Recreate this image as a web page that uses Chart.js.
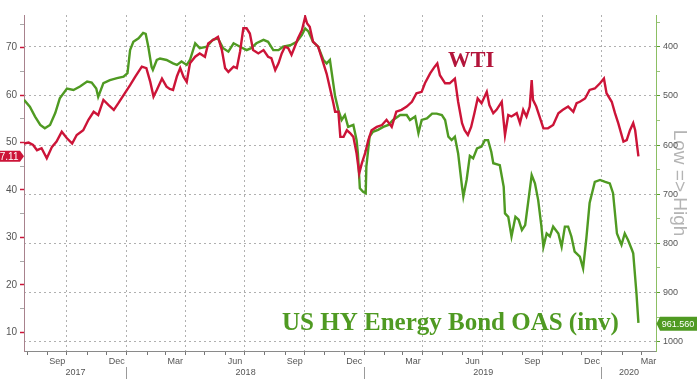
<!DOCTYPE html>
<html><head><meta charset="utf-8">
<script src="https://cdn.jsdelivr.net/npm/chart.js@4"></script>
<style>html,body{margin:0;padding:0;background:#fff;}#wrap{width:700px;height:379px;position:relative;}</style>
</head><body><div id="wrap"><canvas id="c" width="700" height="379"></canvas></div>
<script>
// ---------- data ----------
const wtiDates = ['2017-07-27','2017-08-03','2017-08-10','2017-08-16','2017-08-23','2017-08-31','2017-09-08','2017-09-15','2017-09-23','2017-10-01','2017-10-09','2017-10-16','2017-10-26','2017-11-03','2017-11-11','2017-11-18','2017-11-26','2017-12-04','2017-12-12','2017-12-19','2017-12-27','2018-01-06','2018-01-14','2018-01-24','2018-01-31','2018-02-06','2018-02-11','2018-02-16','2018-02-24','2018-03-03','2018-03-08','2018-03-13','2018-03-19','2018-03-24','2018-03-29','2018-04-03','2018-04-08','2018-04-16','2018-04-23','2018-05-01','2018-05-06','2018-05-13','2018-05-21','2018-05-27','2018-06-01','2018-06-06','2018-06-14','2018-06-19','2018-06-24','2018-06-29','2018-07-04','2018-07-09','2018-07-14','2018-07-22','2018-07-30','2018-08-06','2018-08-11','2018-08-17','2018-08-22','2018-08-27','2018-09-01','2018-09-06','2018-09-11','2018-09-16','2018-09-21','2018-09-27','2018-10-02','2018-10-05','2018-10-09','2018-10-14','2018-10-22','2018-10-30','2018-11-04','2018-11-09','2018-11-14','2018-11-17','2018-11-22','2018-11-25','2018-11-30','2018-12-05','2018-12-10','2018-12-15','2018-12-20','2018-12-24','2018-12-28','2019-01-02','2019-01-07','2019-01-12','2019-01-20','2019-01-28','2019-02-04','2019-02-12','2019-02-19','2019-02-27','2019-03-07','2019-03-15','2019-03-22','2019-03-30','2019-04-04','2019-04-12','2019-04-19','2019-04-23','2019-04-27','2019-05-05','2019-05-12','2019-05-20','2019-05-25','2019-05-31','2019-06-04','2019-06-09','2019-06-14','2019-06-19','2019-06-24','2019-06-30','2019-07-08','2019-07-12','2019-07-18','2019-07-23','2019-07-31','2019-08-05','2019-08-10','2019-08-15','2019-08-23','2019-08-28','2019-09-02','2019-09-07','2019-09-12','2019-09-15','2019-09-17','2019-09-22','2019-09-28','2019-10-03','2019-10-10','2019-10-18','2019-10-26','2019-11-02','2019-11-10','2019-11-18','2019-11-23','2019-11-28','2019-12-06','2019-12-13','2019-12-21','2019-12-29','2020-01-04','2020-01-08','2020-01-16','2020-01-21','2020-01-26','2020-02-03','2020-02-08','2020-02-13','2020-02-18','2020-02-21','2020-02-26'];
const wtiValues = [49.8,50.0,49.5,48.4,48.8,46.7,49.1,50.2,52.3,50.9,49.8,51.6,52.6,54.8,56.5,55.8,59.0,57.9,56.9,58.3,60.0,62.1,63.9,66.0,65.7,62.8,59.7,61.1,63.5,61.8,61.3,61.1,64.0,65.7,63.9,62.8,66.7,68.1,68.8,68.1,70.9,71.6,72.3,69.5,65.7,64.9,66.0,65.7,69.2,74.1,74.1,73.0,69.5,68.8,69.5,68.1,67.8,65.3,66.7,68.8,70.2,69.9,68.5,70.2,72.0,73.7,76.5,75.1,74.4,71.3,70.2,66.7,64.5,61.5,58.5,56.5,56.5,51.2,51.2,52.6,52.0,51.2,47.7,43.5,45.6,47.7,50.5,52.6,53.3,53.7,54.8,53.3,56.5,56.9,57.6,58.6,60.4,60.7,62.5,64.6,66.0,66.7,64.2,62.5,62.5,63.5,58.6,54.1,52.6,51.6,53.3,56.2,59.3,58.3,60.7,57.9,56.2,56.9,58.6,51.6,55.8,55.5,56.2,54.1,56.9,55.5,57.6,63.2,59.0,57.6,55.1,53.0,53.0,53.7,56.2,56.9,57.6,56.5,58.3,58.6,59.3,61.1,61.4,62.5,63.5,60.4,58.6,56.2,54.1,50.2,50.5,52.6,54.1,52.6,47.11];

const oasDates = ['2017-07-27','2017-08-05','2017-08-13','2017-08-21','2017-08-28','2017-09-05','2017-09-13','2017-09-20','2017-10-01','2017-10-11','2017-10-21','2017-11-01','2017-11-08','2017-11-15','2017-11-18','2017-11-26','2017-12-06','2017-12-17','2017-12-27','2018-01-02','2018-01-06','2018-01-11','2018-01-19','2018-01-26','2018-01-30','2018-02-03','2018-02-08','2018-02-10','2018-02-16','2018-02-21','2018-03-03','2018-03-13','2018-03-19','2018-03-26','2018-04-03','2018-04-08','2018-04-16','2018-04-23','2018-05-04','2018-05-13','2018-05-21','2018-05-29','2018-06-06','2018-06-14','2018-06-24','2018-07-04','2018-07-11','2018-07-19','2018-07-30','2018-08-06','2018-08-14','2018-08-22','2018-08-29','2018-09-09','2018-09-19','2018-09-27','2018-10-02','2018-10-07','2018-10-14','2018-10-22','2018-10-30','2018-11-04','2018-11-09','2018-11-17','2018-11-22','2018-11-27','2018-12-02','2018-12-07','2018-12-15','2018-12-20','2018-12-22','2018-12-25','2018-12-30','2019-01-03','2019-01-04','2019-01-09','2019-01-14','2019-01-22','2019-01-30','2019-02-07','2019-02-14','2019-02-25','2019-03-07','2019-03-12','2019-03-20','2019-03-25','2019-03-30','2019-04-07','2019-04-15','2019-04-22','2019-04-30','2019-05-05','2019-05-10','2019-05-15','2019-05-20','2019-05-25','2019-05-31','2019-06-02','2019-06-07','2019-06-12','2019-06-17','2019-06-23','2019-06-30','2019-07-05','2019-07-10','2019-07-15','2019-07-18','2019-07-28','2019-08-03','2019-08-05','2019-08-10','2019-08-15','2019-08-21','2019-08-26','2019-08-31','2019-09-05','2019-09-10','2019-09-15','2019-09-20','2019-09-25','2019-09-30','2019-10-03','2019-10-08','2019-10-13','2019-10-18','2019-10-26','2019-10-31','2019-11-05','2019-11-10','2019-11-15','2019-11-20','2019-11-28','2019-12-03','2019-12-08','2019-12-13','2019-12-21','2019-12-29','2020-01-06','2020-01-13','2020-01-18','2020-01-24','2020-01-31','2020-02-05','2020-02-10','2020-02-16','2020-02-18','2020-02-23','2020-02-26'];
const oasValues = [508,522,542,559,566,559,535,505,485,488,481,471,473,485,502,474,468,464,461,454,407,390,383,372,374,400,441,447,427,424,427,434,437,430,437,427,393,403,400,386,383,403,410,393,400,407,403,393,386,390,407,407,400,397,390,376,363,369,390,400,427,434,427,501,529,549,539,563,559,590,617,688,695,698,644,583,573,569,563,559,549,539,539,549,542,576,549,546,536,536,539,549,583,590,583,617,685,705,671,622,627,607,603,590,590,614,637,641,685,739,746,786,746,752,773,763,712,661,678,712,766,807,780,786,766,780,807,766,766,786,817,827,851,790,718,675,671,675,678,698,780,803,780,793,813,820,902,961.56];

// ---------- tick / label text ----------
const leftTickValues = [10,20,30,40,50,60,70];
const rightTickValues = [400,500,600,700,800,900,1000];
const monthLabelMonths = ['2017-09','2017-12','2018-03','2018-06','2018-09','2018-12','2019-03','2019-06','2019-09','2019-12','2020-03'];
const monthLabels = ['Sep','Dec','Mar','Jun','Sep','Dec','Mar','Jun','Sep','Dec','Mar'];
const yearLabels = ['2017','2018','2019','2020'];
const wtiName = 'WTI';
const oasName = 'US HY Energy Bond OAS (inv)';
const rightTitle = 'Low => High';
const axisStart = '2017-07-27', axisEnd = '2020-03-24';

// ---------- helpers ----------
const day = s => { const p = s.split('-').map(Number); return Date.UTC(p[0], p[1]-1, p[2]||1)/864e5; };
const xMin = day(axisStart), xMax = day(axisEnd);
const mStart = (y, m) => Date.UTC(y, m, 1)/864e5;
const visCenter = (a, b) => (Math.max(a, xMin) + Math.min(b, xMax)) / 2;

const monthTicks = []; const quarterSet = new Set();
for (let y = 2017; y <= 2020; y++) for (let m = 0; m < 12; m++) {
  const v = mStart(y, m);
  if (v > xMin && v < xMax) { monthTicks.push(v); if (m % 3 === 0) quarterSet.add(v); }
}
const monthLabelPos = monthLabelMonths.map(s => { const p = s.split('-').map(Number); return visCenter(mStart(p[0], p[1]-1), mStart(p[0], p[1])); });
const yearItems = [];
yearLabels.forEach(l => {
  const y = Number(l);
  const j = mStart(y, 0);
  if (j > xMin && j < xMax) yearItems.push({v: j, l: '', sep: true});
  yearItems.push({v: visCenter(mStart(y, 0), mStart(y + 1, 0)), l: l, sep: false});
});
yearItems.sort((a, b) => a.v - b.v);

const leftMinor = []; for (let v = 10; v <= 75; v += 5) leftMinor.push(v);
const rightMinor = []; for (let v = 350; v <= 1000; v += 50) rightMinor.push(v);

const RED = '#cc1438', GREEN = '#4f9a22';
const tickFont = {family: '"Liberation Sans", Arial, sans-serif', size: 9};

const wtiData = wtiDates.map((d, i) => ({x: day(d), y: wtiValues[i]}));
const oasData = oasDates.map((d, i) => ({x: day(d), y: oasValues[i]}));

const annot = {
  id: 'annot',
  afterDraw(chart) {
    const ctx = chart.ctx, ys = chart.scales.y, yr = chart.scales.y1, ca = chart.chartArea;
    ctx.save();
    // series names
    ctx.fillStyle = '#b3153b';
    ctx.font = 'bold 22.5px "Liberation Serif", "Times New Roman", serif';
    ctx.textBaseline = 'alphabetic'; ctx.textAlign = 'left';
    ctx.fillText(wtiName, 448, 67);
    ctx.fillStyle = GREEN;
    ctx.font = 'bold 25px "Liberation Serif", "Times New Roman", serif';
    ctx.fillText(oasName, 282, 330);
    // last value tags
    const lw = wtiValues[wtiValues.length - 1];
    const yl = ys.getPixelForValue(lw);
    ctx.fillStyle = RED;
    ctx.beginPath();
    ctx.moveTo(-10, yl - 5.5); ctx.lineTo(20, yl - 5.5); ctx.lineTo(ca.left, yl); ctx.lineTo(20, yl + 5.5); ctx.lineTo(-10, yl + 5.5); ctx.closePath(); ctx.fill();
    ctx.fillStyle = '#fff'; ctx.font = '10px "Liberation Sans", Arial, sans-serif';
    ctx.textAlign = 'right'; ctx.textBaseline = 'middle';
    ctx.fillText(lw.toFixed(2), 18.5, yl + 0.5);
    const lo = oasValues[oasValues.length - 1];
    const yo = yr.getPixelForValue(lo) + 1;
    ctx.fillStyle = GREEN;
    ctx.beginPath();
    ctx.moveTo(ca.right + 0.5, yo); ctx.lineTo(ca.right + 4, yo - 7); ctx.lineTo(697, yo - 7); ctx.lineTo(697, yo + 7); ctx.lineTo(ca.right + 4, yo + 7); ctx.closePath(); ctx.fill();
    ctx.fillStyle = '#fff'; ctx.font = '9px "Liberation Sans", Arial, sans-serif';
    ctx.textAlign = 'center';
    ctx.fillText(lo.toFixed(3), 678, yo + 0.5);
    ctx.restore();
  }
};

new Chart(document.getElementById('c'), {
  type: 'line',
  data: { datasets: [
    { label: wtiName, data: wtiData, borderColor: RED, borderWidth: 2.4, pointRadius: 0, tension: 0, xAxisID: 'x', yAxisID: 'y' },
    { label: oasName, data: oasData, borderColor: GREEN, borderWidth: 2.4, pointRadius: 0, tension: 0, xAxisID: 'x', yAxisID: 'y1' }
  ]},
  options: {
    responsive: false, animation: false, devicePixelRatio: 1,
    layout: { padding: { top: 15, left: 0, right: 0, bottom: 0 } },
    plugins: { legend: { display: false }, tooltip: { enabled: false } },
    scales: {
      x: {
        type: 'linear', position: 'bottom', min: xMin, max: xMax, weight: 0,
        afterFit: s => { s.height = 4; },
        afterBuildTicks: s => { s.ticks = monthTicks.map(v => ({value: v})); },
        ticks: { display: false },
        grid: { display: true, drawOnChartArea: true, drawTicks: true, tickLength: 4,
          color: c => (c.tick && quarterSet.has(c.tick.value)) ? '#b0b0b0' : 'rgba(0,0,0,0)',
          tickColor: '#777', lineWidth: 1 },
        border: { display: true, color: '#8a8a8a', width: 1, dash: [2, 3] }
      },
      xm: {
        type: 'linear', position: 'bottom', min: xMin, max: xMax, weight: 1,
        afterFit: s => { s.height = 12; },
        afterBuildTicks: s => { s.ticks = monthLabelPos.map(v => ({value: v})); },
        ticks: { autoSkip: false, maxRotation: 0, minRotation: 0, padding: 1.5, font: tickFont, color: '#555',
          callback: (v, i) => monthLabels[i] },
        grid: { display: false, drawTicks: false, tickLength: 0 }, border: { display: false }
      },
      xy: {
        type: 'linear', position: 'bottom', min: xMin, max: xMax, weight: 2,
        afterFit: s => { s.height = 12; },
        afterBuildTicks: s => { s.ticks = yearItems.map(o => ({value: o.v})); },
        ticks: { autoSkip: false, maxRotation: 0, minRotation: 0, padding: -12, font: tickFont, color: '#555',
          callback: (v, i) => yearItems[i].l },
        grid: { display: true, drawOnChartArea: false, drawTicks: true, tickLength: 12,
          tickColor: c => (c.index !== undefined && yearItems[c.index] && yearItems[c.index].sep) ? '#9a9a9a' : 'rgba(0,0,0,0)' },
        border: { display: false }
      },
      y: {
        type: 'linear', position: 'left', min: 6.05, max: 76.9,
        afterFit: s => { s.width = 24; },
        afterBuildTicks: s => { s.ticks = leftMinor.map(v => ({value: v})); },
        ticks: { autoSkip: false, padding: 3, font: {family: '"Liberation Sans", Arial, sans-serif', size: 10}, color: '#555',
          callback: v => leftTickValues.includes(v) ? String(v) : '' },
        grid: { drawOnChartArea: false, drawTicks: true, tickLength: 4,
          tickColor: c => (c.tick && leftTickValues.includes(c.tick.value)) ? RED : '#a9a9a9',
          tickWidth: c => (c.tick && leftTickValues.includes(c.tick.value)) ? 1.5 : 1 },
        border: { display: true, color: '#a8828d', width: 1 }
      },
      y1: {
        type: 'linear', position: 'right', reverse: true, min: 335.5, max: 1018.9,
        afterFit: s => { s.width = 44; },
        afterBuildTicks: s => { s.ticks = rightMinor.map(v => ({value: v})); },
        ticks: { autoSkip: false, padding: 3, font: tickFont, color: '#555',
          callback: v => rightTickValues.includes(v) ? String(v) : '' },
        title: { display: true, text: rightTitle, color: '#b4b4b4',
          font: {family: '"Liberation Sans", Arial, sans-serif', size: 19}, padding: {top: 9, bottom: 0} },
        grid: { drawOnChartArea: true, drawTicks: true, tickLength: 4,
          color: c => (c.tick && rightTickValues.includes(c.tick.value)) ? '#b0b0b0' : 'rgba(0,0,0,0)',
          tickColor: c => (c.tick && rightTickValues.includes(c.tick.value)) ? '#5a9e2e' : '#9cc47e' },
        border: { display: true, color: '#8cbf63', width: 1, dash: [2, 3] }
      }
    }
  },
  plugins: [annot]
});
</script></body></html>
